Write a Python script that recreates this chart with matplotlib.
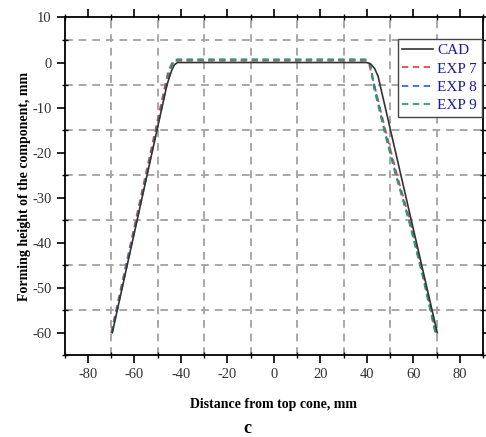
import matplotlib.pyplot as plt
from matplotlib.ticker import MultipleLocator

# ====== DATA ======
cad_x = [-69.5, -46.0, -44.0, -42.8, -41.5, 40.0, 41.8, 43.3, 44.8, 70.3]
cad_y = [-60.0, -5.0, -1.8, -0.5, 0.0, 0.0, -0.4, -1.3, -3.0, -60.0]

exp7_x = [-70.0, -45.5, -43.5, -42.0, 39.5, 41.0, 43.2, 48.0, 53.0, 58.5, 64.2, 69.6]
exp7_y = [-60.0, -2.0, 0.3, 0.4, 0.4, -0.5, -5.0, -15.0, -25.0, -35.0, -47.0, -60.0]

exp8_x = [-69.8, -45.0, -43.0, -41.5, 40.0, 41.5, 43.0, 47.6, 52.6, 58.2, 64.0, 69.8]
exp8_y = [-60.0, -2.0, 0.5, 0.7, 0.7, -0.5, -4.5, -15.0, -25.0, -35.0, -47.0, -60.0]

exp9_x = [-69.6, -44.8, -43.0, -41.5, 40.0, 41.5, 43.0, 47.4, 52.4, 58.0, 63.8, 69.4]
exp9_y = [-60.0, -2.0, 0.5, 0.6, 0.6, -0.5, -5.5, -15.0, -25.0, -35.0, -47.0, -60.0]

labels = ["CAD", "EXP 7", "EXP 8", "EXP 9"]

plt.rcParams["font.family"] = ["Liberation Serif", "DejaVu Serif"]
plt.rcParams["axes.unicode_minus"] = False

fig = plt.figure(figsize=(4.86, 4.37), dpi=100)
ax = fig.add_axes([0.133, 0.187, 0.861, 0.773])

ax.plot(cad_x, cad_y, color="#333333", lw=1.2, label=labels[0], zorder=5)
dash = (0, (3.5, 2.5))
ax.plot(exp7_x, exp7_y, color="#e8464b", lw=1.3, ls=dash, label=labels[1], zorder=4)
ax.plot(exp8_x, exp8_y, color="#2a6fdc", lw=1.3, ls=dash, label=labels[2], zorder=4)
ax.plot(exp9_x, exp9_y, color="#2e9e63", lw=1.3, ls=dash, label=labels[3], zorder=4)

ax.set_xlim(-90, 90)
ax.set_ylim(-65, 10)
ax.xaxis.set_major_locator(MultipleLocator(20))
ax.xaxis.set_minor_locator(MultipleLocator(10))
ax.yaxis.set_major_locator(MultipleLocator(10))
ax.yaxis.set_minor_locator(MultipleLocator(5))

# grid only at the in-between (minor) positions
for v in range(-70, 71, 20):
    ax.axvline(v, color="#a8a8a8", lw=1.4, ls=(0, (4, 3)), zorder=1)
for v in range(5, -61, -10):
    ax.axhline(v, color="#a8a8a8", lw=1.4, ls=(0, (4, 3)), zorder=1)

ax.tick_params(which="major", direction="out", length=6, width=1.2,
               top=True, right=True, labelsize=10.5, labelcolor="#333333")
ax.tick_params(which="minor", direction="inout", length=5, width=1.0,
               top=True, right=True)
for s in ax.spines.values():
    s.set_linewidth(1.3)

ax.set_xlabel("Distance from top cone, mm", fontsize=10, fontweight="bold", labelpad=12)
ax.set_ylabel("Forming height of the component, mm", fontsize=10, fontweight="bold", labelpad=1)

leg = ax.legend(loc="upper right", bbox_to_anchor=(0.997, 0.936), fontsize=11,
                handlelength=2.0, handletextpad=0.3, borderpad=0.3,
                labelspacing=0.3, borderaxespad=0.0, fancybox=False, framealpha=1)
leg.get_frame().set_edgecolor("#444444")
leg.get_frame().set_linewidth(1.0)
for t in leg.get_texts():
    t.set_color("#1c1ca0")

fig.text(0.51, 0.0, "c", fontsize=13, fontweight="bold", ha="center", va="bottom")

fig.savefig("out.png", dpi=100)
